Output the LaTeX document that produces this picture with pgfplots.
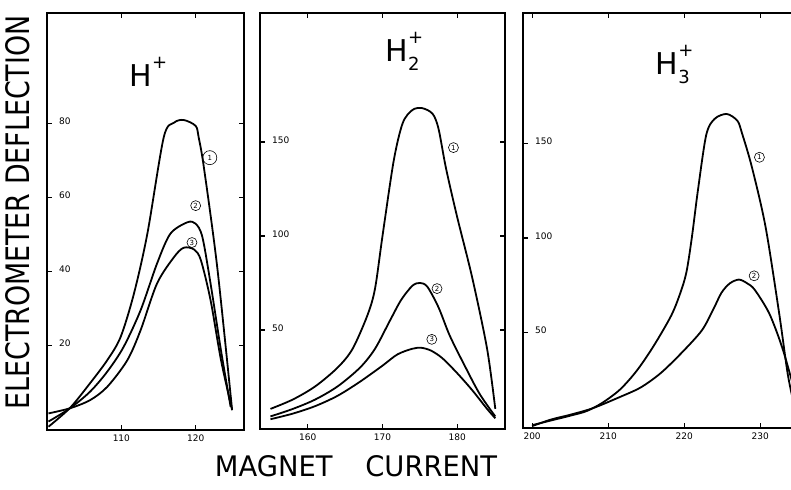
\documentclass[border=0pt]{standalone}
\usepackage{fontspec}
\setmainfont{DejaVu Sans}
\usepackage{pgfplots}
\pgfplotsset{compat=1.18}

\pgfplotsset{
  panel/.style={
    scale only axis, anchor=south west, clip=false,
    axis line style={line width=1.3pt},
    tick style={black, line width=0.6pt},
    tick align=inside, major tick length=2.5pt,
    ticklabel style={font=\fontsize{4.5}{5}\selectfont},
    /pgf/number format/assume math mode=true,
    yticklabel style={anchor=west, xshift=2.5pt, yshift=1pt},
    xticklabel style={yshift=1pt},
  },
  curve/.style={black, line width=0.9pt, smooth, no marks},
}
\tikzset{
  circ/.style={circle, draw, line width=0.3pt, inner sep=0.3pt, minimum size=5pt,
    font=\fontsize{3.5}{4}\selectfont},
  ttl/.style={font=\fontsize{15}{15}\selectfont},
}
\newcommand{\sub}[1]{\rlap{\raisebox{1.1ex}{\fontsize{9}{9}\selectfont +}}\raisebox{-0.55ex}{\fontsize{9}{9}\selectfont #1}}

\begin{document}
\begin{tikzpicture}

% H+
\begin{axis}[panel, at={(23.5pt,29.5pt)}, width=98.5pt, height=208.5pt,
  xmin=100, xmax=126.5, ymin=-3, ymax=110,
  xtick={110,120}, ytick={20,40,60,80}]
\addplot[curve] coordinates {(100.2,-2.1) (103.1,3) (105.8,9.7) (108.1,15.9) (109.9,22.2) (111.7,34) (113.5,50.2) (115.7,76.3) (117.1,80.3) (118.4,81) (120,79.4) (120.4,76.3) (121.1,68.2) (122.9,41.1) (124.9,2.4)};
\addplot[curve] coordinates {(100.2,-0.7) (103.1,2.9) (105.8,7.4) (108.1,12.8) (110.3,19.5) (112.6,29.5) (114.8,42.1) (116.6,50.2) (118.9,53.3) (120,52.9) (120.9,49.3) (122,36.7) (123.4,18.6) (124.7,3.3)};
\addplot[curve] coordinates {(100.2,1.5) (103.1,2.9) (105.8,5.1) (108.1,8.7) (110.8,15.9) (112.6,24.1) (114.8,36.7) (117.1,43.9) (118.4,46.4) (119.8,45.9) (120.7,43) (122,32.2) (123.4,16) (124.9,2.4)};
\node[ttl] at (axis cs:113.9,94) {H\rlap{\raisebox{1.1ex}{\fontsize{9}{9}\selectfont +}}\phantom{2}};
\node[circ, minimum size=7pt] at (axis cs:121.9,70.8) {1};
\node[circ] at (axis cs:120,57.8) {2};
\node[circ] at (axis cs:119.5,47.8) {3};
\end{axis}

% H2+
\begin{axis}[panel, at={(130pt,30pt)}, width=122.5pt, height=208pt,
  xmin=153.6, xmax=186.4, ymin=-2.7, ymax=218.6,
  xtick={160,170,180}, ytick={50,100,150}]
\addplot[curve] coordinates {(155,8) (158,13) (161,20) (164,30) (166,40) (168,58) (169,72) (170,100) (171.5,140) (172.7,160) (174,167) (175.3,168) (176.7,165) (177.5,157) (178.5,136) (180,110) (182,78) (184,40) (185.1,8)};
\addplot[curve] coordinates {(155,4) (158,8) (161,13) (164,20) (167,30) (169,40) (171,55) (172.5,66) (174,73.5) (175,75) (176,73) (177.5,62) (179,47) (181,31) (183,16) (185.1,4)};
\addplot[curve] coordinates {(155,2.5) (158,5.5) (161,9.5) (164,15) (167,22.5) (170,31) (172,37) (174,40) (175.2,40.5) (176.5,39) (178,35) (180,27) (182,18) (184,8) (185.1,3)};
\node[ttl] at (axis cs:172.7,198) {H\sub{2}};
\node[circ] at (axis cs:179.5,147) {1};
\node[circ] at (axis cs:177.3,72) {2};
\node[circ] at (axis cs:176.6,45) {3};
\end{axis}

% H3+
\begin{axis}[panel, at={(261.5pt,30.5pt)}, width=137.6pt, height=207.5pt,
  xmin=198.8, xmax=235, ymin=-0.5, ymax=219,
  xtick={200,210,220,230}, ytick={50,100,150}]
\addplot[curve] coordinates {(200,1) (202.7,3.7) (205,6) (207.2,8.5) (209.3,13) (211.6,20) (213.8,30) (216,43) (218.3,59) (219.5,71) (220.3,82) (221,100) (221.8,125) (222.9,154.5) (224,163) (225.6,165.6) (227,162) (227.6,155.5) (228.9,137.6) (230.7,106) (232.5,60) (233.6,28.6) (234.4,12.7) (235,2)};
\addplot[curve] coordinates {(200,0.5) (202.5,4) (205,6.5) (208,10) (211.6,16) (214.3,21) (216.9,28.5) (219.6,39) (222.3,51) (223.8,62) (224.9,71) (226,76) (227.2,78) (228.3,76) (229.3,72.5) (231.2,60) (232.9,42) (234.4,21) (235,12)};
\node[ttl] at (axis cs:218.5,192) {H\sub{3}};
\node[circ] at (axis cs:229.9,142.7) {1};
\node[circ] at (axis cs:229.2,80) {2};
\end{axis}

\node[rotate=90] at (8.75pt,138.25pt) {\resizebox{197pt}{12pt}{ELECTROMETER DEFLECTION}};
\node at (178pt,11.5pt) {\resizebox{141pt}{10.5pt}{MAGNET\hspace{1.2em}CURRENT}};

\pgfresetboundingbox
\path[use as bounding box] (0,0) rectangle (395.5pt,244.5pt);
\end{tikzpicture}
\end{document}
